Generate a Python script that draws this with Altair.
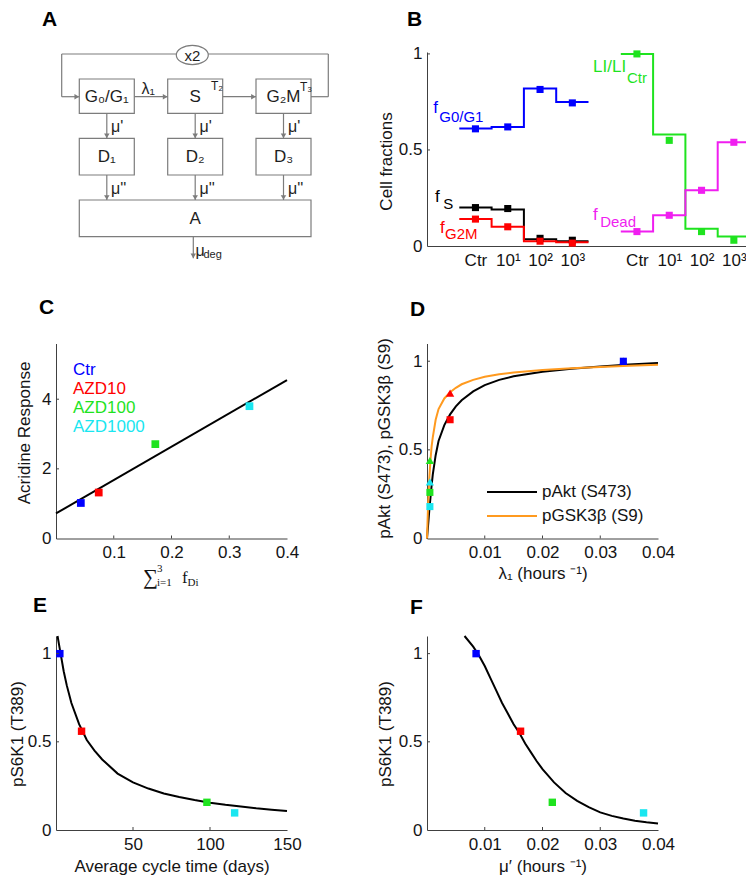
import altair as alt
import pandas as pd

FONT = "Liberation Sans"
SERIF = "Liberation Serif"
FS = 17
AXC = "#404040"
INK = "#141414"
GRAY = "#7c7c7c"

BLUE = "#0000FF"; RED = "#FF0000"; GREEN = "#1FE31F"; CYAN = "#1AE6F0"
MAGENTA = "#F01EF0"; ORANGE = "#FF9A1F"; BLACK = "#000000"

cond_names = ["Ctr", "AZD10", "AZD100", "AZD1000"]
cond_colors = [BLUE, RED, GREEN, CYAN]

# ---------------- Panel A (model diagram, page-pixel coordinates) ----------------
box_left = [79.3, 167.7, 256.0, 79.3, 167.7, 256.0, 79.3]
box_right = [134.3, 222.7, 311.0, 134.3, 222.7, 311.0, 311.0]
box_top = [79.0, 79.0, 79.0, 138.3, 138.3, 138.3, 200.0]
box_bottom = [113.3, 113.3, 113.3, 175.0, 175.0, 175.0, 236.7]
seg_x1 = [61.7, 61.7, 61.7, 328.3, 311.0, 134.3, 222.7, 106.8, 195.2, 283.5, 106.8, 195.2, 283.5, 193.3]
seg_y1 = [54.0, 54.0, 96.7, 54.0, 96.7, 96.7, 96.7, 113.3, 113.3, 113.3, 175.0, 175.0, 175.0, 236.7]
seg_x2 = [328.3, 61.7, 79.3, 328.3, 328.3, 167.7, 256.0, 106.8, 195.2, 283.5, 106.8, 195.2, 283.5, 193.3]
seg_y2 = [54.0, 96.7, 96.7, 96.7, 96.7, 96.7, 96.7, 138.3, 138.3, 138.3, 200.0, 200.0, 200.0, 258.3]
head_x = [76.8, 165.2, 253.5, 106.8, 195.2, 283.5, 106.8, 195.2, 283.5, 193.3]
head_y = [96.7, 96.7, 96.7, 135.8, 135.8, 135.8, 197.5, 197.5, 197.5, 255.8]
head_shape = ["triangle-right"] * 3 + ["triangle-down"] * 7
ctext = ["x2", "G₀/G₁", "S", "G₂M", "D₁", "D₂", "D₃", "A"]
ctext_x = [192.3, 106.8, 195.2, 283.5, 106.8, 195.2, 283.5, 195.2]
ctext_y = [55.5, 96.5, 96.5, 96.5, 157.0, 157.0, 157.0, 218.5]
ctext_s = [15, 17, 17, 17, 17, 17, 17, 17]
ltext = ["λ₁", "μ'", "μ'", "μ'", "μ''", "μ''", "μ''", "μ", "deg", "T₂", "T₃"]
ltext_x = [141.5, 111.0, 199.5, 288.0, 111.0, 199.5, 288.0, 195.5, 203.5, 211.0, 300.0]
ltext_y = [89.0, 127.0, 127.0, 127.0, 189.0, 189.0, 189.0, 251.0, 255.0, 86.0, 87.0]
ltext_s = [16, 16, 16, 16, 16, 16, 16, 16, 11, 12, 12]

# ---------------- Panel B ----------------
b_label_pos = [1, 2, 3, 4, 6, 7, 8, 9]
b_labels = ["Ctr", "10¹", "10²", "10³", "Ctr", "10¹", "10²", "10³"]
b_left_x = [1, 2, 3, 4]
b_right_x = [6, 7, 8, 9]
fG0G1_pts = [0.61, 0.62, 0.815, 0.745]
fG0G1_fit = [0.612, 0.62, 0.82, 0.75]
fS_pts = [0.20, 0.195, 0.04, 0.03]
fS_fit = [0.20, 0.19, 0.035, 0.025]
fG2M_pts = [0.14, 0.10, 0.025, 0.015]
fG2M_fit = [0.14, 0.10, 0.025, 0.02]
LI_pts = [1.0, 0.55, 0.075, 0.03]
LI_fit = [1.0, 0.58, 0.09, 0.05]
fDead_pts = [0.075, 0.16, 0.29, 0.54]
fDead_fit = [0.075, 0.16, 0.29, 0.54]
b_ann_text = ["f", "G0/G1", "f", "S", "f", "G2M", "LI/LI", "Ctr", "f", "Dead"]
b_ann_x = [-0.31, -0.12, -0.25, 0.0, -0.1, 0.06, 4.64, 5.69, 4.64, 4.86]
b_ann_y = [0.72, 0.67, 0.255, 0.221, 0.094, 0.06, 0.93, 0.875, 0.16, 0.125]
b_ann_c = [BLUE, BLUE, BLACK, BLACK, RED, RED, GREEN, GREEN, MAGENTA, MAGENTA]
b_ann_s = [17, 15, 17, 15, 17, 15, 17, 15, 17, 15]

# ---------------- Panel C ----------------
c_x = [0.043, 0.074, 0.172, 0.335]
c_y = [1.02, 1.32, 2.71, 3.80]
c_fit_x = [0.0, 0.4]
c_fit_y = [0.72, 4.55]

# ---------------- Panel D ----------------
d_x = [0.034, 0.004, 0.0005, 0.0005]
d_pakt = [1.0, 0.67, 0.26, 0.18]
d_pgsk = [1.0, 0.82, 0.44, 0.32]
d_curve_x = [0, 0.0002, 0.0004, 0.0006, 0.0008, 0.001, 0.0015, 0.002, 0.003, 0.004, 0.005,
             0.006, 0.008, 0.01, 0.0125, 0.015, 0.02, 0.025, 0.03, 0.035, 0.04]
d_curve_akt = [0, 0.08, 0.16, 0.23, 0.30, 0.36, 0.47, 0.55, 0.64, 0.70, 0.745,
               0.78, 0.83, 0.865, 0.895, 0.915, 0.94, 0.957, 0.97, 0.981, 0.99]
d_curve_gsk = [0, 0.20, 0.34, 0.44, 0.52, 0.57, 0.67, 0.73, 0.79, 0.825, 0.85,
               0.87, 0.895, 0.912, 0.926, 0.936, 0.95, 0.96, 0.968, 0.975, 0.98]

# ---------------- Panel E ----------------
e_x = [2.5, 16.6, 98, 116]
e_y = [1.0, 0.56, 0.157, 0.097]
e_curve_x = [1, 2, 3, 5, 7, 10, 15, 20, 25, 30, 40, 50, 60, 70, 80, 90, 100, 110, 120, 130, 140, 150]
e_curve_y = [1.10, 1.05, 1.0, 0.90, 0.82, 0.72, 0.60, 0.51, 0.45, 0.40, 0.32, 0.27, 0.235,
             0.207, 0.187, 0.17, 0.155, 0.143, 0.133, 0.123, 0.115, 0.108]

# ---------------- Panel F ----------------
f_x = [0.0085, 0.0162, 0.0217, 0.0375]
f_y = [1.0, 0.56, 0.157, 0.097]
f_curve_x = [0.0065, 0.008, 0.009, 0.01, 0.011, 0.012, 0.013, 0.014, 0.015, 0.016, 0.017, 0.018,
             0.019, 0.02, 0.022, 0.024, 0.026, 0.028, 0.03, 0.032, 0.034, 0.036, 0.038, 0.04]
f_curve_y = [1.10, 1.04, 0.99, 0.93, 0.86, 0.79, 0.72, 0.66, 0.60, 0.55, 0.49, 0.44,
             0.39, 0.345, 0.27, 0.21, 0.165, 0.13, 0.10, 0.08, 0.065, 0.053, 0.044, 0.037]

NUMFMT = ".3~r"
W, H = 738, 868          # drawing area: page minus the 8px margins


def P(v):
    """page pixel -> drawing pixel"""
    return v - 8


def ptext(t, x, y, size=FS, color=INK, align="left", baseline="middle", font=FONT, weight="normal"):
    return alt.Chart(pd.DataFrame({"t": [t]})).mark_text(
        align=align, baseline=baseline, font=font, fontSize=size, fontWeight=weight, color=color
    ).encode(text="t:N", x=alt.value(P(x)), y=alt.value(P(y)))


def letter(t, x, y):
    return ptext(t, x, y, size=21, color=BLACK, baseline="alphabetic", weight="bold")


def hrule(col, x1, x2, y):
    return alt.Chart(pd.DataFrame({"c": [col]})).mark_rule(strokeWidth=2).encode(
        x=alt.value(P(x1)), x2=alt.value(P(x2)), y=alt.value(P(y)), color=alt.Color("c:N", scale=None))


def panel(xdom, left, right, ydom, bottom, top, xaxis, yaxis):
    xs = alt.Scale(domain=xdom, range=[P(left), P(right)], nice=False, zero=False)
    ys = alt.Scale(domain=ydom, range=[P(bottom), P(top)], nice=False, zero=False)

    def X(f):
        return alt.X(f, type="quantitative", scale=xs, axis=xaxis)

    def Y(f):
        return alt.Y(f, type="quantitative", scale=ys, axis=yaxis)

    def yticks(vals):
        return alt.Chart(pd.DataFrame({"v": vals})).mark_rule(color=AXC, strokeWidth=1).encode(
            y=Y("v"), x=alt.value(P(left)), x2=alt.value(P(left) + 3))

    def xticks(vals):
        return alt.Chart(pd.DataFrame({"v": vals})).mark_rule(color=AXC, strokeWidth=1).encode(
            x=X("v"), y=alt.value(P(bottom)), y2=alt.value(P(bottom) - 3))
    return X, Y, yticks, xticks


def yax(left, values, title, tx, ty, fmt=NUMFMT):
    return alt.Axis(orient="left", offset=-P(left), values=values, format=fmt, title=title,
                    titleX=tx - left, titleY=P(ty))


def xax(bottom, values, title=None, tx=0, ty=0, fmt=NUMFMT, expr=None):
    kw = dict(orient="bottom", offset=P(bottom) - H, values=values, title=title)
    if expr:
        kw["labelExpr"] = expr
    else:
        kw["format"] = fmt
    if title:
        kw.update(titleX=P(tx), titleY=ty)
    return alt.Axis(**kw)


# ================= Panel A =================
AXs = alt.Scale(domain=[0, 754], range=[-8, 746], nice=False, zero=False)
AYs = alt.Scale(domain=[0, 884], range=[-8, 876], nice=False, zero=False)


def AX(f):
    return alt.X(f, type="quantitative", scale=AXs, axis=None)


def AY(f):
    return alt.Y(f, type="quantitative", scale=AYs, axis=None)


a_segs = alt.Chart(pd.DataFrame({"x": seg_x1, "y": seg_y1, "x2": seg_x2, "y2": seg_y2})).mark_rule(
    color=GRAY, strokeWidth=1.2).encode(x=AX("x"), x2="x2:Q", y=AY("y"), y2="y2:Q")
a_boxes = alt.Chart(pd.DataFrame({"x": box_left, "x2": box_right, "y": box_top, "y2": box_bottom})).mark_rect(
    fill="white", stroke=GRAY, strokeWidth=1.2).encode(x=AX("x"), x2="x2:Q", y=AY("y"), y2="y2:Q")
a_ell = alt.Chart(pd.DataFrame({"x": [192.3], "y": [55.0]})).mark_point(
    shape="M-1,0A1,0.6,0,1,1,1,0A1,0.6,0,1,1,-1,0Z", size=1024, filled=True, color="white",
    stroke=GRAY, strokeWidth=1.2, opacity=1).encode(x=AX("x"), y=AY("y"))
a_heads = alt.Chart(pd.DataFrame({"x": head_x, "y": head_y, "sh": head_shape})).mark_point(
    filled=True, color=GRAY, size=30, opacity=1).encode(
    x=AX("x"), y=AY("y"), shape=alt.Shape("sh:N", scale=None))
a_ctext = alt.Chart(pd.DataFrame({"t": ctext, "x": ctext_x, "y": ctext_y, "s": ctext_s})).mark_text(
    align="center", baseline="middle", font=FONT, color="#1e1e1e").encode(
    x=AX("x"), y=AY("y"), text="t:N", size=alt.Size("s:Q", scale=None))
a_ltext = alt.Chart(pd.DataFrame({"t": ltext, "x": ltext_x, "y": ltext_y, "s": ltext_s})).mark_text(
    align="left", baseline="middle", font=FONT, color="#1e1e1e").encode(
    x=AX("x"), y=AY("y"), text="t:N", size=alt.Size("s:Q", scale=None))
panel_a = alt.layer(a_segs, a_boxes, a_ell, a_heads, a_ctext, a_ltext, letter("A", 42, 26))

# ================= Panel B =================
b_expr = " : ".join(f"datum.value == {p} ? '{l}'" for p, l in zip(b_label_pos, b_labels)) + " : ''"
BX, BY, b_yt, b_xt = panel(
    [-0.5, 9.5], 427, 750, [0, 1.01], 246, 52,
    xax(246, b_label_pos, expr=b_expr),
    yax(427, [0, 0.5, 1], "Cell fractions", 386, 161))
b_sets = [("fG0G1", BLUE, b_left_x, fG0G1_pts, fG0G1_fit),
          ("fS", BLACK, b_left_x, fS_pts, fS_fit),
          ("fG2M", RED, b_left_x, fG2M_pts, fG2M_fit),
          ("LI", GREEN, b_right_x, LI_pts, LI_fit),
          ("fDead", MAGENTA, b_right_x, fDead_pts, fDead_fit)]
line_rows, pt_rows = [], []
for name, col, xs_, pts, fit in b_sets:
    edges = [x - 0.5 for x in xs_] + [xs_[-1] + 0.5]
    levels = list(fit) + [fit[-1]]
    line_rows += [{"s": name, "c": col, "x": a, "y": b} for a, b in zip(edges, levels)]
    pt_rows += [{"s": name, "c": col, "x": a, "y": b} for a, b in zip(xs_, pts)]
b_lines = alt.Chart(pd.DataFrame(line_rows)).mark_line(interpolate="step-after", strokeWidth=2).encode(
    x=BX("x"), y=BY("y"), color=alt.Color("c:N", scale=None), detail="s:N")
b_pts = alt.Chart(pd.DataFrame(pt_rows)).mark_point(shape="square", filled=True, size=50, opacity=1).encode(
    x=BX("x"), y=BY("y"), color=alt.Color("c:N", scale=None))
b_ann = alt.Chart(pd.DataFrame({"t": b_ann_text, "x": b_ann_x, "y": b_ann_y, "c": b_ann_c, "s": b_ann_s})).mark_text(
    align="left", baseline="middle", font=FONT).encode(
    x=BX("x"), y=BY("y"), text="t:N", color=alt.Color("c:N", scale=None), size=alt.Size("s:Q", scale=None))
panel_b = alt.layer(b_lines, b_pts, b_ann, b_yt([0.5, 1]), letter("B", 407, 26))

# ================= Panel C =================
CX, CY, c_yt, c_xt = panel(
    [0, 0.4], 56, 287, [0, 5.6], 538.5, 343.5,
    xax(538.5, [0.1, 0.2, 0.3, 0.4]),
    yax(56, [0, 2, 4], "Acridine Response", 24, 432.5))
c_line = alt.Chart(pd.DataFrame({"x": c_fit_x, "y": c_fit_y})).mark_line(color=BLACK, strokeWidth=2).encode(
    x=CX("x"), y=CY("y"))
c_pts = alt.Chart(pd.DataFrame({"x": c_x, "y": c_y, "c": cond_colors})).mark_point(
    shape="square", filled=True, size=60, opacity=1).encode(
    x=CX("x"), y=CY("y"), color=alt.Color("c:N", scale=None))
c_layers = [c_line, c_pts, c_yt([2, 4]), c_xt([0.1, 0.2, 0.3]), letter("C", 39, 314)]
for i, (nm, col) in enumerate(zip(cond_names, cond_colors)):
    c_layers.append(ptext(nm, 73, 370 + 19 * i, color=col))
c_layers += [
    ptext("∑", 143, 584, size=21, font=SERIF, baseline="alphabetic"),
    ptext("3", 157, 572, size=11, font=SERIF, baseline="alphabetic"),
    ptext("i=1", 157, 586, size=11, font=SERIF, baseline="alphabetic"),
    ptext("f", 182, 583, size=17, font=SERIF, baseline="alphabetic"),
    ptext("Di", 187.5, 586, size=11, font=SERIF, baseline="alphabetic"),
]
panel_c = alt.layer(*c_layers)

# ================= Panel D =================
DX, DY, d_yt, d_xt = panel(
    [0, 0.04], 427, 658, [0, 1.1], 538.5, 343.5,
    xax(538.5, [0.01, 0.02, 0.03, 0.04], "λ₁ (hours ⁻¹)", 542.5, 34.5),
    yax(427, [0, 0.5, 1], "pAkt (S473), pGSK3β (S9)", 384, 438))
d_curves = pd.DataFrame(
    [{"s": "akt", "c": BLACK, "x": a, "y": b} for a, b in zip(d_curve_x, d_curve_akt)] +
    [{"s": "gsk", "c": ORANGE, "x": a, "y": b} for a, b in zip(d_curve_x, d_curve_gsk)])
d_lines = alt.Chart(d_curves).mark_line(strokeWidth=2).encode(
    x=DX("x"), y=DY("y"), color=alt.Color("c:N", scale=None), detail="s:N")
d_sq = alt.Chart(pd.DataFrame({"x": d_x, "y": d_pakt, "c": cond_colors})).mark_point(
    shape="square", filled=True, size=50, opacity=1).encode(x=DX("x"), y=DY("y"), color=alt.Color("c:N", scale=None))
d_tri = alt.Chart(pd.DataFrame({"x": d_x, "y": d_pgsk, "c": cond_colors})).mark_point(
    shape="triangle-up", filled=True, size=70, opacity=1).encode(x=DX("x"), y=DY("y"), color=alt.Color("c:N", scale=None))
panel_d = alt.layer(
    d_lines, d_sq, d_tri, d_yt([0.5, 1]), d_xt([0.01, 0.02, 0.03]),
    hrule(BLACK, 487, 537, 492), hrule(ORANGE, 487, 537, 516),
    ptext("pAkt (S473)", 542, 492), ptext("pGSK3β (S9)", 542, 516),
    letter("D", 410, 316))

# ================= Panel E =================
EX, EY, e_yt, e_xt = panel(
    [0, 150], 56, 287, [0, 1.1], 830, 636,
    xax(830, [50, 100, 150], "Average cycle time (days)", 171.5, 36),
    yax(56, [0, 0.5, 1], "pS6K1 (T389)", 17.5, 733.5))
panel_e = alt.layer(
    alt.Chart(pd.DataFrame({"x": e_curve_x, "y": e_curve_y})).mark_line(color=BLACK, strokeWidth=2).encode(
        x=EX("x"), y=EY("y")),
    alt.Chart(pd.DataFrame({"x": e_x, "y": e_y, "c": cond_colors})).mark_point(
        shape="square", filled=True, size=55, opacity=1).encode(
        x=EX("x"), y=EY("y"), color=alt.Color("c:N", scale=None)),
    e_yt([0.5, 1]), e_xt([50, 100]), letter("E", 33, 612))

# ================= Panel F =================
FX, FY, f_yt, f_xt = panel(
    [0, 0.04], 427, 658, [0, 1.1], 830, 636,
    xax(830, [0.01, 0.02, 0.03, 0.04], "μ′ (hours ⁻¹)", 542.5, 36),
    yax(427, [0, 0.5, 1], "pS6K1 (T389)", 385, 733.5))
panel_f = alt.layer(
    alt.Chart(pd.DataFrame({"x": f_curve_x, "y": f_curve_y})).mark_line(color=BLACK, strokeWidth=2).encode(
        x=FX("x"), y=FY("y")),
    alt.Chart(pd.DataFrame({"x": f_x, "y": f_y, "c": cond_colors})).mark_point(
        shape="square", filled=True, size=55, opacity=1).encode(
        x=FX("x"), y=FY("y"), color=alt.Color("c:N", scale=None)),
    f_yt([0.5, 1]), f_xt([0.01, 0.02, 0.03]), letter("F", 410, 614))

chart = alt.layer(panel_a, panel_b, panel_c, panel_d, panel_e, panel_f).resolve_scale(
    x="independent", y="independent"
).resolve_axis(
    x="independent", y="independent"
).properties(
    width=W, height=H, padding=0, background="white",
    autosize=alt.AutoSizeParams(type="none", contains="padding")
).configure(font=FONT).configure_view(stroke="transparent").configure_axis(
    grid=False, ticks=False, tickSize=0, domainColor=AXC, domainWidth=1, labelFlush=False,
    labelFont=FONT, labelFontSize=FS, labelColor=INK,
    titleFont=FONT, titleFontSize=FS, titleFontWeight="normal", titleColor=INK
).configure_axisX(labelPadding=6, titleAlign="center", titleBaseline="middle"
).configure_axisY(labelPadding=5, titleAngle=270, titleAlign="center", titleBaseline="middle")

chart.save("out.html", embed_options={"renderer": "svg", "actions": False})
